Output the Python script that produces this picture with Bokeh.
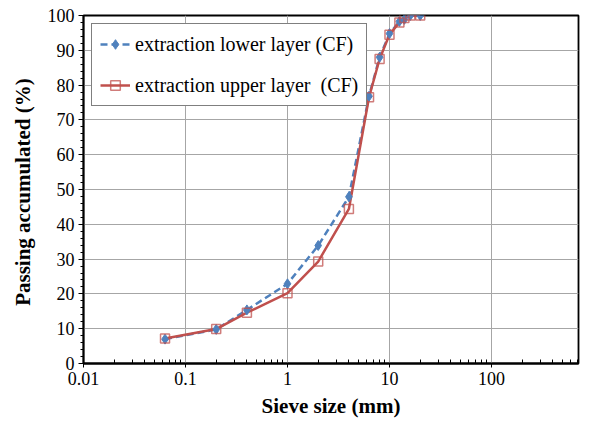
from bokeh.plotting import figure
from bokeh.models import (FixedTicker, SingleIntervalTicker, CustomJSTickFormatter,
                          Legend, LegendItem, Range1d)
from bokeh.embed import file_html
from bokeh.resources import INLINE

# Data
sieve_mm = [0.063, 0.2, 0.4, 1, 2, 4, 6.3, 8, 10, 12.5, 14, 16, 20]
lower_layer = [7.0, 9.8, 15.4, 22.9, 33.9, 47.9, 76.8, 88.0, 94.8, 98.3, 98.9, 100.0, 100.0]
upper_layer = [7.2, 9.9, 14.6, 20.2, 29.3, 44.4, 76.5, 87.5, 94.5, 98.0, 99.3, 100.0, 100.0]
x_tick_values = [0.01, 0.1, 1, 10, 100]
label_lower = "extraction lower layer (CF)"
label_upper = "extraction upper layer  (CF)"

BLUE = "#4F81BD"
RED = "#C0504D"
FONT = "Liberation Serif"

p = figure(width=580, height=420, x_axis_type="log",
           x_range=Range1d(0.01, 713), y_range=Range1d(0, 100),
           output_backend="svg", toolbar_location=None,
           min_border_left=83, min_border_right=2, min_border_top=15, min_border_bottom=57)
p.outline_line_color = "black"
p.outline_line_width = 1.8

minor = [m * 10.0 ** e for e in range(-2, 3) for m in range(2, 10)]
p.xaxis.ticker = FixedTicker(ticks=x_tick_values, minor_ticks=minor)
p.xaxis.formatter = CustomJSTickFormatter(code="return tick < 1 ? tick.toString() : tick.toFixed(0);")
p.yaxis.ticker = SingleIntervalTicker(interval=10, num_minor_ticks=5)

for ax in (p.xaxis[0], p.yaxis[0]):
    ax.axis_line_color = "black"
    ax.axis_line_width = 1.8
    ax.major_tick_line_color = "black"
    ax.minor_tick_line_color = "black"
    ax.major_label_text_font = FONT
    ax.major_label_text_font_size = "18px"
    ax.major_label_text_color = "black"
    ax.axis_label_text_font = FONT
    ax.axis_label_text_font_size = "21px"
    ax.axis_label_text_font_style = "bold"
    ax.axis_label_text_color = "black"

p.xaxis.major_tick_in = 0
p.xaxis.major_tick_out = 4
p.xaxis.minor_tick_in = 4
p.xaxis.minor_tick_out = 0
p.xaxis.major_label_standoff = 4
p.xaxis.axis_label = "Sieve size (mm)"
p.xaxis.axis_label_standoff = 6

p.yaxis.major_tick_in = 0
p.yaxis.major_tick_out = 5
p.yaxis.minor_tick_in = 0
p.yaxis.minor_tick_out = 3
p.yaxis.major_label_standoff = 4
p.yaxis.axis_label = "Passing  accumulated (%)"
p.yaxis.axis_label_standoff = 10

p.xgrid.grid_line_color = "#A6A6A6"
p.ygrid.grid_line_color = "#A6A6A6"
p.xgrid.grid_line_width = 1
p.ygrid.grid_line_width = 1

l1 = p.line(sieve_mm, lower_layer, line_color=BLUE, line_width=2.5, line_dash="7 4")
l2 = p.line(sieve_mm, upper_layer, line_color=RED, line_width=2.5)
s1 = p.scatter(sieve_mm, lower_layer, marker="diamond", size=10, fill_color=BLUE, line_color=BLUE)
s2 = p.scatter(sieve_mm, upper_layer, marker="square", size=9, fill_color=None,
               line_color=RED, line_alpha=0.75, line_width=1.5)

legend = Legend(items=[LegendItem(label=label_lower, renderers=[l1, s1]),
                       LegendItem(label=label_upper, renderers=[l2, s2])],
                location="top_left", margin=8, padding=8, spacing=17,
                glyph_width=30, glyph_height=24, label_height=24, label_standoff=5,
                label_text_font=FONT, label_text_font_size="20px", label_text_color="black",
                border_line_color="black", border_line_width=1, background_fill_alpha=1)
p.add_layout(legend)

open("out.html", "w").write(file_html(p, INLINE))
